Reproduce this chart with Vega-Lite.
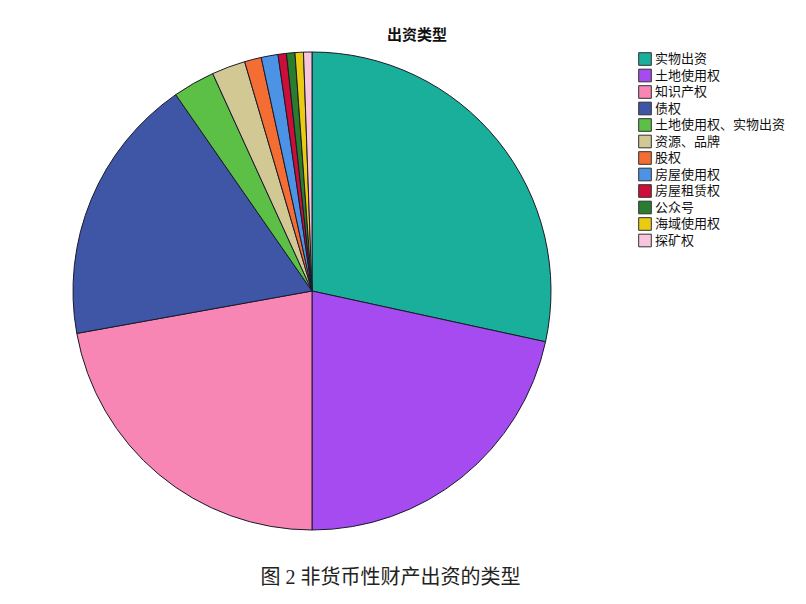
{
  "$schema": "https://vega.github.io/schema/vega-lite/v6.json",
  "description": "Pie of non-monetary contribution types.",
  "padding": {"left": 71, "top": 28, "right": 0, "bottom": 0},
  "background": "white",
  "title": {
    "text": "图 2 非货币性财产出资的类型",
    "orient": "bottom",
    "anchor": "middle",
    "font": "Liberation Serif, Noto Sans CJK SC",
    "fontSize": 20,
    "fontWeight": "normal",
    "color": "#222222",
    "offset": 36,
    "dx": -38
  },
  "vconcat": [
    {
      "width": 478,
      "height": 478,
      "title": {
        "text": "出资类型",
        "font": "Noto Sans CJK SC",
        "fontSize": 15,
        "fontWeight": "bold",
        "color": "#111111",
        "anchor": "middle",
        "dx": 105,
        "offset": 7
      },
      "data": {
        "values": [
          {"type": "实物出资", "idx": 1, "count": 50},
          {"type": "土地使用权", "idx": 2, "count": 38},
          {"type": "知识产权", "idx": 3, "count": 39},
          {"type": "债权", "idx": 4, "count": 32},
          {"type": "土地使用权、实物出资", "idx": 5, "count": 5},
          {"type": "资源、品牌", "idx": 6, "count": 4},
          {"type": "股权", "idx": 7, "count": 2},
          {"type": "房屋使用权", "idx": 8, "count": 2},
          {"type": "房屋租赁权", "idx": 9, "count": 1},
          {"type": "公众号", "idx": 10, "count": 1},
          {"type": "海域使用权", "idx": 11, "count": 1},
          {"type": "探矿权", "idx": 12, "count": 1}
        ]
      },
      "mark": {"type": "arc", "stroke": "#1a1a2a", "strokeWidth": 1},
      "encoding": {
        "theta": {"field": "count", "type": "quantitative", "stack": true},
        "order": {"field": "idx", "type": "quantitative"},
        "color": {
          "field": "type",
          "type": "nominal",
          "sort": null,
          "scale": {
            "domain": ["实物出资", "土地使用权", "知识产权", "债权", "土地使用权、实物出资", "资源、品牌", "股权", "房屋使用权", "房屋租赁权", "公众号", "海域使用权", "探矿权"],
            "range": ["#1aaf9b", "#a64bef", "#f886b4", "#3f56a6", "#5cbf46", "#d2c893", "#f46d32", "#4c93e6", "#cc0e38", "#2b7d2e", "#e9cb12", "#f8c6dc"]
          },
          "legend": {
            "title": null,
            "orient": "right",
            "offset": 85,
            "symbolType": "square",
            "symbolSize": 160,
            "symbolStrokeColor": "#333333",
            "symbolStrokeWidth": 1,
            "labelFont": "Noto Sans CJK SC",
            "labelFontSize": 13,
            "labelColor": "#111111",
            "labelOffset": 3,
            "rowPadding": -1.5,
            "labelLimit": 300
          }
        }
      }
    }
  ],
  "config": {
    "view": {"stroke": null}
  }
}
